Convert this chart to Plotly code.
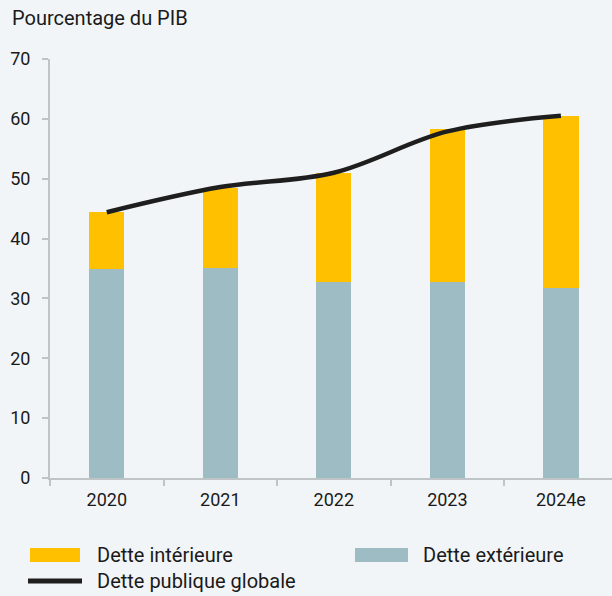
import plotly.graph_objects as go

years = ["2020", "2021", "2022", "2023", "2024e"]
dette_exterieure = [34.9, 35.1, 32.8, 32.8, 31.7]
dette_interieure = [9.5, 13.4, 18.1, 25.5, 28.8]
dette_globale = [44.4, 48.6, 51.0, 57.9, 60.5]
y_ticks = [0, 10, 20, 30, 40, 50, 60, 70]

BG = "#F2F5F7"
YELLOW = "#FFC000"
TEAL = "#9DBCC4"
LINE = "#1E1E1E"
FONT = "Roboto"

fig = go.Figure()
fig.add_trace(go.Bar(x=years, y=dette_exterieure, name="Dette extérieure",
                     marker=dict(color=TEAL, line=dict(width=0)), width=0.31))
fig.add_trace(go.Bar(x=years, y=dette_interieure, name="Dette intérieure",
                     marker=dict(color=YELLOW, line=dict(width=0)), width=0.31))
fig.add_trace(go.Scatter(x=years, y=dette_globale, name="Dette publique globale",
                         mode="lines", line=dict(color=LINE, width=4.5, shape="spline", smoothing=1.0)))

fig.update_layout(
    width=612, height=596,
    barmode="stack",
    paper_bgcolor=BG, plot_bgcolor=BG,
    margin=dict(l=50, r=0, t=59, b=118),
    showlegend=False,
    font=dict(family=FONT, size=18, color="#1a1a1a"),
    xaxis=dict(range=[-0.5, 4.45], showline=True, linecolor="#BFC4C7", linewidth=2,
               ticks="outside", tickson="boundaries", ticklen=6, tickcolor="#BFC4C7", tickwidth=2,
               showgrid=False, zeroline=False, tickfont=dict(size=18), ticklabelstandoff=4),
    yaxis=dict(range=[0, 70], tickvals=y_ticks, showline=True, linecolor="#BFC4C7", linewidth=2,
               ticks="outside", ticklen=6, tickcolor="#BFC4C7", tickwidth=2,
               showgrid=False, zeroline=False, tickfont=dict(size=18), ticklabelstandoff=8),
)

def px_x(px):
    return (px - 50) / 562

def px_y(py):
    return (478 - py) / 419

fig.add_annotation(xref="paper", yref="paper", x=px_x(10), y=px_y(18), xanchor="left", yanchor="middle",
                   text="Pourcentage du PIB", showarrow=False, font=dict(size=20, color="#1a1a1a"))

# custom legend
legend_items = [
    ("rect", YELLOW, 30, 80, 555, "Dette intérieure", 95),
    ("rect", TEAL, 355, 408, 555, "Dette extérieure", 421),
    ("line", LINE, 28, 82, 581, "Dette publique globale", 95),
]
for kind, color, x0, x1, yc, label, tx in legend_items:
    if kind == "rect":
        fig.add_shape(type="rect", xref="paper", yref="paper", x0=px_x(x0), x1=px_x(x1),
                      y0=px_y(yc + 7), y1=px_y(yc - 7), fillcolor=color, line=dict(width=0))
    else:
        fig.add_shape(type="line", xref="paper", yref="paper", x0=px_x(x0), x1=px_x(x1),
                      y0=px_y(yc), y1=px_y(yc), line=dict(color=color, width=5))
    fig.add_annotation(xref="paper", yref="paper", x=px_x(tx), y=px_y(yc), xanchor="left", yanchor="middle",
                       text=label, showarrow=False, font=dict(size=20, color="#1a1a1a"))

fig.write_html("out.html", config={"displayModeBar": False},
               post_script="document.body.style.margin='0';document.body.style.background='#F2F5F7';")
